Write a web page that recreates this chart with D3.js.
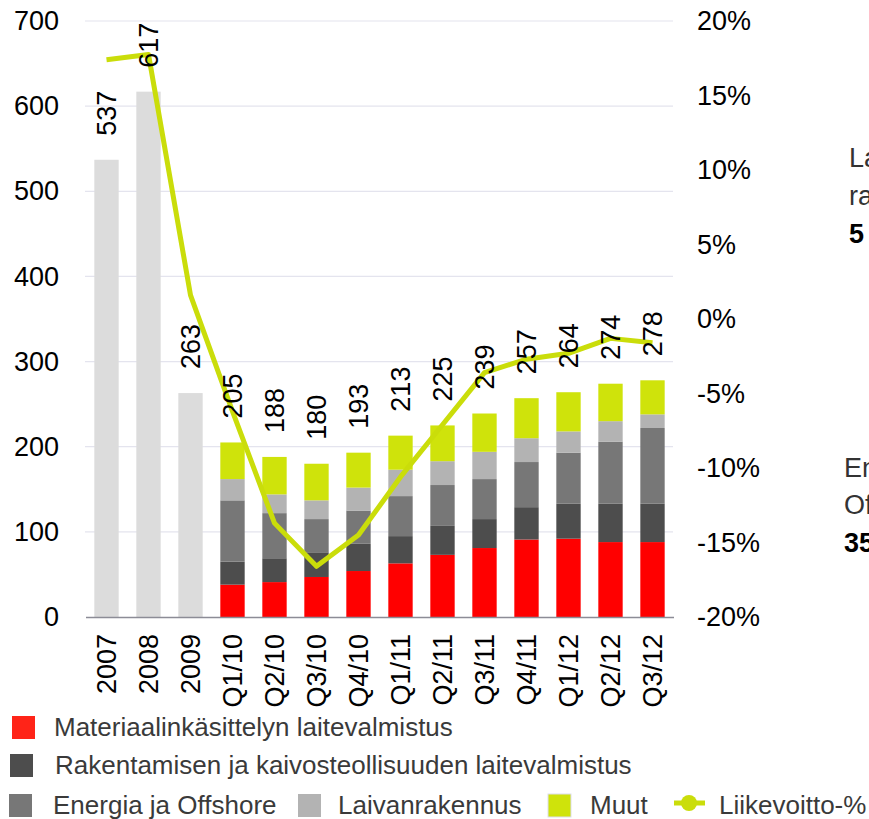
<!DOCTYPE html>
<html>
<head>
<meta charset="utf-8">
<script src="https://cdn.jsdelivr.net/npm/d3@7"></script>
<style>
  body { margin: 0; background: #fff; }
  svg { display: block; font-family: "Liberation Sans", Arial, sans-serif; }
</style>
</head>
<body>
<svg width="869" height="819"></svg>
<script>
// categories and values (M EUR / %)
var categories = ["2007", "2008", "2009", "Q1/10", "Q2/10", "Q3/10", "Q4/10",
  "Q1/11", "Q2/11", "Q3/11", "Q4/11", "Q1/12", "Q2/12", "Q3/12"];
var totals = [537, 617, 263, 205, 188, 180, 193, 213, 225, 239, 257, 264, 274, 278];
var annual = [537, 617, 263, 0, 0, 0, 0, 0, 0, 0, 0, 0, 0, 0];
var materiaali = [0, 0, 0, 38, 41, 47, 54, 63, 73, 81, 91, 92, 88, 88];
var rakentaminen = [0, 0, 0, 27, 28, 29, 32, 32, 34, 34, 38, 41, 45, 45];
var energia = [0, 0, 0, 72, 53, 39, 39, 47, 48, 47, 53, 60, 73, 89];
var laiva = [0, 0, 0, 25, 22, 22, 27, 31, 28, 32, 28, 25, 24, 16];
var muut = [0, 0, 0, 43, 44, 43, 41, 40, 42, 45, 47, 46, 44, 40];
var liikevoitto = [17.4, 17.75, 1.6, -6.2, -13.7, -16.6, -14.5, -10.6, -7.1, -3.6, -2.7, -2.3, -1.3, -1.6];
var leftTicks = [0, 100, 200, 300, 400, 500, 600, 700];
var rightTicks = [-20, -15, -10, -5, 0, 5, 10, 15, 20];

var keys = ["annual", "materiaali", "rakentaminen", "energia", "laiva", "muut"];
var colors = {
  annual: "#dcdcdc",
  materiaali: "#ff0000",
  rakentaminen: "#4d4d4d",
  energia: "#777777",
  laiva: "#b3b3b3",
  muut: "#cfe30b"
};
var lineColor = "#cadd0a";

var rows = categories.map(function(c, i) {
  return {
    cat: c, total: totals[i], annual: annual[i], materiaali: materiaali[i],
    rakentaminen: rakentaminen[i], energia: energia[i], laiva: laiva[i], muut: muut[i],
    pct: liikevoitto[i]
  };
});

var svg = d3.select("svg");

var x = d3.scaleBand()
  .domain(categories)
  .range([85.5, 673.5])
  .paddingInner(0.42)
  .paddingOuter(0.21);

var y = d3.scaleLinear().domain([0, 700]).range([617, 21]);
var y2 = d3.scaleLinear().domain([-20, 20]).range([617, 21]);

// gridlines
svg.append("g")
  .selectAll("line")
  .data(leftTicks.filter(function(d) { return d > 0; }))
  .enter().append("line")
  .attr("x1", 85).attr("x2", 673)
  .attr("y1", function(d) { return y(d); })
  .attr("y2", function(d) { return y(d); })
  .attr("stroke", "#e4e4ee")
  .attr("stroke-width", 1.2);

// left axis
var leftAxis = svg.append("g")
  .attr("transform", "translate(85,0)")
  .call(d3.axisLeft(y).tickValues(leftTicks).tickSize(0).tickPadding(26));
leftAxis.select(".domain").remove();
leftAxis.selectAll("text")
  .attr("font-family", "Liberation Sans, Arial, sans-serif")
  .attr("font-size", 27)
  .attr("fill", "#000");

// right axis
var rightAxis = svg.append("g")
  .attr("transform", "translate(673,0)")
  .call(d3.axisRight(y2).tickValues(rightTicks).tickSize(0).tickPadding(24)
    .tickFormat(function(d) { return d + "%"; }));
rightAxis.select(".domain").remove();
rightAxis.selectAll("text")
  .attr("font-family", "Liberation Sans, Arial, sans-serif")
  .attr("font-size", 27)
  .attr("fill", "#000");

// stacked bars
var stack = d3.stack().keys(keys);
var layers = stack(rows);

svg.append("g")
  .selectAll("g")
  .data(layers)
  .enter().append("g")
  .attr("fill", function(d) { return colors[d.key]; })
  .selectAll("rect")
  .data(function(d) { return d; })
  .enter().append("rect")
  .attr("x", function(d) { return x(d.data.cat); })
  .attr("width", x.bandwidth())
  .attr("y", function(d) { return y(d[1]); })
  .attr("height", function(d) { return y(d[0]) - y(d[1]); });

// x axis
var xAxis = svg.append("g")
  .attr("transform", "translate(0,617)")
  .call(d3.axisBottom(x).tickSize(0).tickSizeOuter(0));
xAxis.select(".domain")
  .attr("stroke", "#8c8c96")
  .attr("stroke-width", 1.5);
xAxis.selectAll("text")
  .attr("font-family", "Liberation Sans, Arial, sans-serif")
  .attr("font-size", 27)
  .attr("fill", "#000")
  .attr("transform", "rotate(-90)")
  .attr("text-anchor", "end")
  .attr("x", -17)
  .attr("y", 0)
  .attr("dy", "0.35em");

// liikevoitto line
var line = d3.line()
  .x(function(d) { return x(d.cat) + x.bandwidth() / 2; })
  .y(function(d) { return y2(d.pct); });

svg.append("path")
  .datum(rows)
  .attr("d", line)
  .attr("fill", "none")
  .attr("stroke", lineColor)
  .attr("stroke-width", 5)
  .attr("stroke-linejoin", "round");

// value labels
svg.append("g")
  .selectAll("text")
  .data(rows)
  .enter().append("text")
  .attr("transform", function(d) {
    return "translate(" + (x(d.cat) + x.bandwidth() / 2) + "," + (y(d.total) - 24) + ") rotate(-90)";
  })
  .attr("dy", "0.35em")
  .attr("font-size", 27)
  .attr("fill", "#000")
  .text(function(d) { return d.total; });

// legend
var legend = svg.append("g").attr("font-size", 26).attr("fill", "#3a3a3a");

var legendItems = [
  { key: "materiaali", label: "Materiaalinkäsittelyn laitevalmistus", sx: 12, tx: 54, y: 716, fill: "#ff2418" },
  { key: "rakentaminen", label: "Rakentamisen ja kaivosteollisuuden laitevalmistus", sx: 10, tx: 55, y: 754 },
  { key: "energia", label: "Energia ja Offshore", sx: 9, tx: 53, y: 794 },
  { key: "laiva", label: "Laivanrakennus", sx: 298, tx: 338, y: 794 },
  { key: "muut", label: "Muut", sx: 548, tx: 590, y: 794 }
];

legendItems.forEach(function(it) {
  legend.append("rect")
    .attr("x", it.sx).attr("y", it.y)
    .attr("width", 23).attr("height", 23)
    .attr("fill", it.fill || colors[it.key])
    .attr("stroke", it.key === "muut" ? "#dde" : "none");
  legend.append("text")
    .attr("x", it.tx).attr("y", it.y + 20)
    .text(it.label);
});

legend.append("line")
  .attr("x1", 674).attr("x2", 705)
  .attr("y1", 803).attr("y2", 803)
  .attr("stroke", lineColor).attr("stroke-width", 5);
legend.append("circle")
  .attr("cx", 689).attr("cy", 803).attr("r", 8)
  .attr("fill", lineColor);
legend.append("text")
  .attr("x", 719).attr("y", 814)
  .text("Liikevoitto-%");

// side notes (cut by the page edge)
var notes = svg.append("g").attr("font-size", 27);
notes.append("text").attr("x", 849).attr("y", 167).attr("fill", "#333").text("Laivan-");
notes.append("text").attr("x", 849).attr("y", 205).attr("fill", "#333").text("rakennus");
notes.append("text").attr("x", 849).attr("y", 243).attr("fill", "#000").attr("font-weight", "bold").text("5 %");
notes.append("text").attr("x", 844).attr("y", 477).attr("fill", "#333").text("Energia ja");
notes.append("text").attr("x", 844).attr("y", 514).attr("fill", "#333").text("Offshore");
notes.append("text").attr("x", 844).attr("y", 552).attr("fill", "#000").attr("font-weight", "bold").text("35 %");
</script>
</body>
</html>
